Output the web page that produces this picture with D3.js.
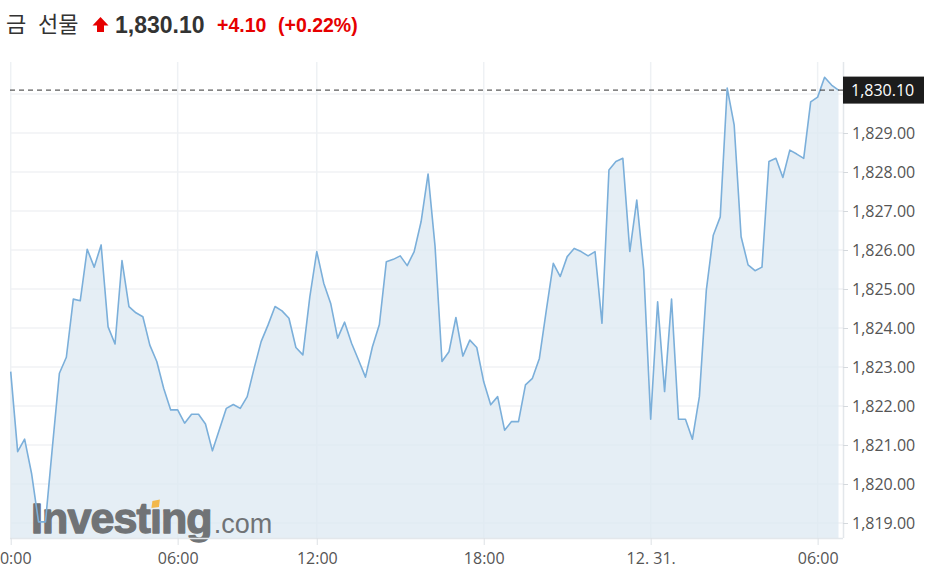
<!DOCTYPE html>
<html>
<head>
<meta charset="utf-8">
<script src="https://cdn.jsdelivr.net/npm/d3@7"></script>
<style>
  html, body { margin: 0; padding: 0; background: #fff; }
  svg { display: block; }
</style>
</head>
<body>
<div id="chart"></div>
<script>
// ---- data ----
const titleWords = ["금", "선물"];
const lastPrice = 1830.10;
const change = "+4.10";
const changePct = "(+0.22%)";

// 15-minute closes, index 0 = 12.30 00:00 (gap 07:00-08:00)
const values = [
  1822.88, 1820.83, 1821.15, 1820.27, 1819.03, 1819.03, 1820.96, 1822.84, 1823.25, 1824.74,
  1824.70, 1826.02, 1825.56, 1826.13, 1824.03, 1823.59, 1825.73, 1824.55, 1824.39, 1824.29,
  1823.56, 1823.14, 1822.45, 1821.90, 1821.90, 1821.56, 1821.79, 1821.79, 1821.54, 1820.85,
  1821.40, 1821.94, 1822.04, 1821.94, 1822.24, 1822.97, 1823.65, 1824.08, 1824.55, 1824.44,
  1824.25, 1823.50, 1823.31, 1824.80, 1825.96, 1825.15, 1824.63, 1823.74, 1824.15, 1823.61,
  1823.18, 1822.74, 1823.52, 1824.09, 1825.70, 1825.76, 1825.85, 1825.60, 1825.96, 1826.73,
  1827.95, 1826.10, 1823.14, 1823.39, 1824.27, 1823.28, 1823.69, 1823.50, 1822.62, 1822.03,
  1822.24, 1821.38, 1821.60, 1821.60, 1822.54, 1822.71, 1823.22, 1824.46, 1825.66, 1825.32,
  1825.83, 1826.04, 1825.96, 1825.85, 1825.96, 1824.12, 1828.05, 1828.27, 1828.35, 1825.96,
  1827.28, 1825.49, 1821.66, 1824.67, 1822.37, 1824.74, 1821.66, 1821.66, 1821.15, 1822.24,
  1824.97, 1826.38, 1826.85, 1830.15, 1829.21, 1826.34, 1825.62, 1825.47, 1825.56, 1828.27,
  1828.35, 1827.86, 1828.56, 1828.46, 1828.35, 1829.80, 1829.92, 1830.43, 1830.23, 1830.10
];

const xTickIndex  = [0, 24, 44, 68, 92, 116];
const xTickLabels = ["00:00", "06:00", "12:00", "18:00", "12. 31.", "06:00"];
const yTicks = [1819, 1820, 1821, 1822, 1823, 1824, 1825, 1826, 1827, 1828, 1829, 1830];
const yLabelTicks = [1819, 1820, 1821, 1822, 1823, 1824, 1825, 1826, 1827, 1828, 1829];

// ---- layout ----
const W = 933, H = 583;
const plot = { left: 10, right: 843, top: 62, bottom: 538 };

const svg = d3.select("#chart").append("svg").attr("width", W).attr("height", H);

const x = d3.scaleLinear().domain([0, values.length - 1]).range([10.7, 838.5]);
const y = d3.scaleLinear().domain([1819, 1829]).range([523, 133]);

// ---- header ----
const head = svg.append("g");
head.append("text").attr("y", 32)
  .attr("font-family", "'Noto Sans CJK KR', sans-serif").attr("font-size", 22)
  .attr("fill", "#333")
  .selectAll("tspan").data(titleWords).join("tspan")
  .attr("x", (d, i) => i === 0 ? 6 : 38).text(d => d);
head.append("path")
  .attr("d", "M100.5,17 L108.5,25.5 L104,25.5 L104,32 L97,32 L97,25.5 L92.5,25.5 Z")
  .attr("fill", "#e60000");
head.append("text").attr("x", 115).attr("y", 33)
  .attr("font-family", "'Liberation Sans', Arial, sans-serif").attr("font-size", 23)
  .attr("font-weight", "bold").attr("fill", "#333").text(d3.format(",.2f")(lastPrice));
head.append("text").attr("x", 217).attr("y", 32)
  .attr("font-family", "'Liberation Sans', Arial, sans-serif").attr("font-size", 19.5)
  .attr("font-weight", "bold").attr("fill", "#e60000").text(change);
head.append("text").attr("x", 278).attr("y", 32)
  .attr("font-family", "'Liberation Sans', Arial, sans-serif").attr("font-size", 19.5)
  .attr("font-weight", "bold").attr("fill", "#e60000").text(changePct);

// ---- grid ----
const grid = svg.append("g");
grid.selectAll("line.h").data(yTicks).join("line")
  .attr("x1", plot.left).attr("x2", plot.right)
  .attr("y1", d => y(d)).attr("y2", d => y(d))
  .attr("stroke", "#f0f2f4").attr("stroke-width", 1.5);
grid.selectAll("line.v").data(xTickIndex).join("line")
  .attr("x1", d => x(d)).attr("x2", d => x(d))
  .attr("y1", plot.top).attr("y2", plot.bottom)
  .attr("stroke", "#eef1f4").attr("stroke-width", 1.5);

// ---- area ----
const area = d3.area().x((d, i) => x(i)).y0(plot.bottom).y1(d => y(d));
const line = d3.line().x((d, i) => x(i)).y(d => y(d));

svg.append("path").datum(values).attr("d", area)
  .attr("fill", "#dce8f2").attr("fill-opacity", 0.75);

// ---- watermark ----
const logo = svg.append("g");
const logoText = logo.append("text").attr("x", 31).attr("y", 533)
  .attr("font-family", "'Liberation Sans', Arial, sans-serif").attr("font-size", 43)
  .attr("font-weight", "bold").attr("fill", "#707376")
  .attr("stroke", "#707376").attr("stroke-width", 1.3).attr("stroke-linejoin", "round")
  .attr("letter-spacing", -0.9)
  .text("Investıng");
logoText.append("tspan").attr("font-size", 27).attr("font-weight", "normal")
  .attr("stroke-width", 0).attr("letter-spacing", 0).attr("dx", 2).text(".com");

try {
  const ext = logoText.node().getExtentOfChar(6);
  const cx = ext.x + ext.width / 2;
  logo.append("path")
    .attr("d", `M${cx - 3},501 L${cx + 4.5},499.5 L${cx + 3.5},507 L${cx - 4},508 Z`)
    .attr("fill", "#f2b84b");
} catch (e) {}

// ---- line ----
svg.append("path").datum(values).attr("d", line)
  .attr("fill", "none").attr("stroke", "#7bafda").attr("stroke-width", 1.6)
  .attr("stroke-linejoin", "round");

// ---- axes ----
const axisColor = "#e3e7eb";
const yAxis = svg.append("g").attr("transform", `translate(${plot.right},0)`)
  .call(d3.axisRight(y).tickValues(yLabelTicks).tickSize(5).tickPadding(4)
    .tickFormat(d3.format(",.2f")));
yAxis.select(".domain").attr("d", `M0.5,${plot.top}V${plot.bottom}`).attr("stroke", axisColor).attr("stroke-width", 1.5);
yAxis.selectAll(".tick line").attr("stroke", "#d5d9dd");
yAxis.selectAll(".tick text").attr("font-family", "'Open Sans', sans-serif")
  .attr("font-size", 16).attr("fill", "#555");

const xAxis = svg.append("g").attr("transform", `translate(0,${plot.bottom})`)
  .call(d3.axisBottom(x).tickValues(xTickIndex).tickSize(7).tickPadding(8)
    .tickFormat((d, i) => xTickLabels[i]));
xAxis.select(".domain").attr("d", `M${plot.left},0.5H${plot.right}`).attr("stroke", axisColor).attr("stroke-width", 1.5);
xAxis.selectAll(".tick line").attr("stroke", "#dde1e5");
xAxis.selectAll(".tick text").attr("font-family", "'Open Sans', sans-serif")
  .attr("font-size", 16).attr("fill", "#555");

// ---- current price line and label ----
svg.append("line").attr("x1", plot.left).attr("x2", plot.right)
  .attr("y1", y(lastPrice)).attr("y2", y(lastPrice))
  .attr("stroke", "#333").attr("stroke-width", 1).attr("stroke-dasharray", "5,4");
svg.append("rect").attr("x", plot.right).attr("y", y(lastPrice) - 13.5)
  .attr("width", 81).attr("height", 27).attr("fill", "#1c1c1c");
svg.append("text").attr("x", plot.right + 8).attr("y", y(lastPrice) + 6)
  .attr("font-family", "'Open Sans', sans-serif").attr("font-size", 16)
  .attr("fill", "#fff").text(d3.format(",.2f")(lastPrice));
</script>
</body>
</html>
